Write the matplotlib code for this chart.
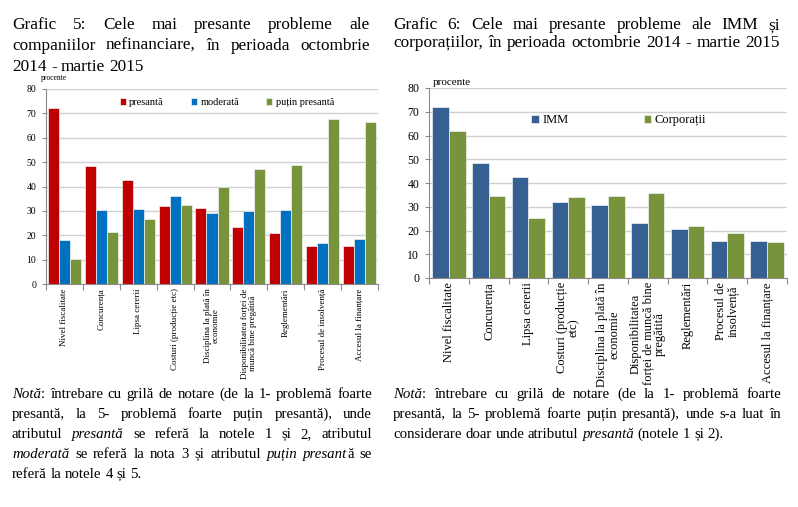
import numpy as np
import matplotlib
matplotlib.use("Agg")
import matplotlib.pyplot as plt

plt.rcParams['font.family'] = ['Liberation Serif', 'DejaVu Serif']

W, H = 798, 507

# ---- date grafic 5
cat5 = ["Nivel fiscalitate", "Concurența", "Lipsa cererii", "Costuri (producție etc)",
        "Disciplina la plată în\neconomie", "Disponibilitatea forței de\nmuncă bine pregătită",
        "Reglementări", "Procesul de insolvență", "Accesul la finanțare"]
presanta = [72.3, 48.5, 42.6, 31.9, 31.0, 23.3, 20.8, 15.7, 15.6]
moderata = [17.9, 30.4, 30.9, 35.9, 29.3, 29.8, 30.4, 16.8, 18.3]
putin = [10.2, 21.2, 26.7, 32.3, 39.8, 47.2, 48.9, 67.6, 66.3]
serii5 = ["presantă", "moderată", "puțin presantă"]

# ---- date grafic 6
cat6 = ["Nivel fiscalitate", "Concurența", "Lipsa cererii", "Costuri (producție\netc)",
        "Disciplina la plată în\neconomie", "Disponibilitatea\nforței de muncă bine\npregătită",
        "Reglementări", "Procesul de\ninsolvență", "Accesul la finanțare"]
imm = [72.1, 48.3, 42.6, 31.8, 30.8, 23.0, 20.8, 15.6, 15.6]
corp = [62.0, 34.7, 25.4, 34.0, 34.6, 36.0, 21.7, 18.8, 15.1]
serii6 = ["IMM", "Corporații"]
yticks = [0, 10, 20, 30, 40, 50, 60, 70, 80]


def px_axes(fig, x0, y0, x1, y1):
    return fig.add_axes([x0 / W, 1 - y1 / H, (x1 - x0) / W, (y1 - y0) / H])


def style_axes(ax, labels, fs_y, fs_x):
    ax.set_ylim(0, 80)
    ax.set_xlim(-0.5, 8.5)
    ax.set_yticks(yticks)
    ax.yaxis.grid(True, color='#d0d0d0', lw=1)
    ax.set_axisbelow(True)
    for s in ['top', 'right']:
        ax.spines[s].set_visible(False)
    for s in ['left', 'bottom']:
        ax.spines[s].set_color('#8c8c8c')
        ax.spines[s].set_linewidth(0.8)
    ax.set_xticks(np.arange(-0.5, 9, 1))
    ax.set_xticklabels([])
    ax.set_xticks(np.arange(9), minor=True)
    ax.set_xticklabels(labels, minor=True, rotation=90, fontsize=fs_x,
                       va='top', ha='center', multialignment='center', linespacing=1.0)
    ax.tick_params(axis='x', which='major', length=4, color='#8c8c8c', width=0.8)
    ax.tick_params(axis='x', which='minor', length=0, pad=3)
    ax.tick_params(axis='y', length=3, color='#8c8c8c', width=0.8, labelsize=fs_y, pad=4)


fig = plt.figure(figsize=(W / 100, H / 100), dpi=100)
renderer = fig.canvas.get_renderer()


def put_line(words, x0, x1, y, fs, justify=True):
    # words: lista de cuvinte, fiecare cuvant lista de (text, italic)
    objs = []
    total = 0
    for wd in words:
        parts = []
        wsum = 0
        for seg, it in wd:
            t = fig.text(0, 1 - y / H, seg, fontsize=fs, style='italic' if it else 'normal',
                         va='baseline', ha='left')
            w = t.get_window_extent(renderer).width
            parts.append((t, w))
            wsum += w
        objs.append((parts, wsum))
        total += wsum
    t = fig.text(0, 0, "a a", fontsize=fs)
    t2 = fig.text(0, 0, "aa", fontsize=fs)
    space = t.get_window_extent(renderer).width - t2.get_window_extent(renderer).width
    t.remove()
    t2.remove()
    gap = space
    if justify and len(words) > 1:
        gap = max((x1 - x0 - total) / (len(words) - 1), space * 0.8)
    x = x0
    for parts, wsum in objs:
        for t, w in parts:
            t.set_x(x / W)
            x += w
        x += gap


def simple(s):
    return [[(w, False)] for w in s.split()]


# ---- titluri
tfs = 12.4
put_line(simple("Grafic 5: Cele mai presante probleme ale"), 12, 370, 29, tfs)
put_line(simple("companiilor nefinanciare, în perioada octombrie"), 12, 370, 50, tfs)
put_line(simple("2014 - martie 2015"), 12, 370, 71, tfs, justify=False)
put_line(simple("Grafic 6: Cele mai presante probleme ale IMM și"), 393, 780, 29, tfs)
put_line(simple("corporațiilor, în perioada octombrie 2014 - martie 2015"), 393, 780, 47, tfs)

# ---- note
nfs = 10.7
note5 = [
    [[("Notă", True), (":", False)]] + simple("întrebare cu grilă de notare (de la 1- problemă foarte"),
    simple("presantă, la 5- problemă foarte puțin presantă), unde"),
    simple("atributul") + [[("presantă", True)]] + simple("se referă la notele 1 și 2, atributul"),
    [[("moderată", True)]] + simple("se referă la nota 3 și atributul") + [[("puțin", True)],
                                                                           [("presant", True), ("ă", False)]] + simple("se"),
    simple("referă la notele 4 și 5."),
]
for i, ln in enumerate(note5):
    put_line(ln, 12, 372, 398 + 20 * i, nfs, justify=(i < len(note5) - 1))

note6 = [
    [[("Notă", True), (":", False)]] + simple("întrebare cu grilă de notare (de la 1- problemă foarte"),
    simple("presantă, la 5-  problemă foarte puțin presantă), unde s-a luat în"),
    simple("considerare doar unde atributul") + [[("presantă", True)]] + simple("(notele 1 și 2)."),
]
for i, ln in enumerate(note6):
    put_line(ln, 393, 781, 398 + 20 * i, nfs, justify=(i < len(note6) - 1))

# ---- grafic 5
ax1 = px_axes(fig, 46, 89, 378, 284)
x = np.arange(len(cat5))
bw = 0.3
cols5 = ['#c00000', '#0070c0', '#77933c']
for k, vals in enumerate([presanta, moderata, putin]):
    ax1.bar(x + (k - 1) * bw, vals, bw, color=cols5[k], edgecolor='#f2f2f2', lw=0.5,
            label=serii5[k])
style_axes(ax1, cat5, 7, 6.5)
ax1.legend(loc='center', bbox_to_anchor=(0.545, 0.93), ncol=3, frameon=False, fontsize=7.5,
           handlelength=0.6, handleheight=0.6, handletextpad=0.3, columnspacing=2.6)
fig.text(41 / W, 1 - 80 / H, "procente", fontsize=5.5, ha='left', va='baseline')

# ---- grafic 6
ax2 = px_axes(fig, 429, 88, 787, 278)
bw2 = 0.42
cols6 = ['#376092', '#77933c']
ax2.bar(x - bw2 / 2, imm, bw2, color=cols6[0], edgecolor='#f2f2f2', lw=0.5, label=serii6[0])
ax2.bar(x + bw2 / 2, corp, bw2, color=cols6[1], edgecolor='#f2f2f2', lw=0.5, label=serii6[1])
style_axes(ax2, cat6, 8.5, 9)
ax2.legend(loc='center', bbox_to_anchor=(0.53, 0.83), ncol=2, frameon=False, fontsize=9,
           handlelength=0.6, handleheight=0.6, handletextpad=0.3, columnspacing=6.0)
fig.text(433 / W, 1 - 85 / H, "procente", fontsize=8, ha='left', va='baseline')

fig.savefig("out.png", dpi=100)
